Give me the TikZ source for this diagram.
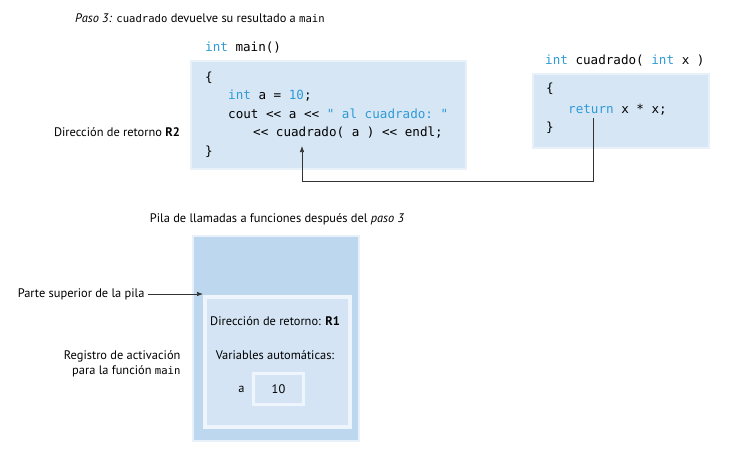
\documentclass[tikz,border=0pt]{standalone}
\usepackage{fontspec}
\setmainfont{PT Sans}
\setmonofont{DejaVu Sans Mono}
\usetikzlibrary{positioning,arrows.meta,calc}
\definecolor{codebg}{HTML}{D6E6F5}
\definecolor{boxedge}{HTML}{E8F1FA}
\definecolor{stackbg}{HTML}{BDD7EE}
\definecolor{framebg}{HTML}{D4E4F4}
\definecolor{frameedge}{HTML}{EEF5FC}
\definecolor{kw}{HTML}{2E9BD6}
\definecolor{linegray}{HTML}{333333}

\begin{document}
\begin{tikzpicture}[x=1pt, y=-1pt,
  font=\fontsize{12.4}{14.5}\selectfont,
  lbl/.style={inner sep=0pt, anchor=base west},
  code/.style={inner sep=0pt, anchor=base west, font=\fontsize{12.6}{14}\ttfamily},
  codebox/.style={draw=boxedge, line width=2pt, fill=codebg, anchor=north west, inner sep=0pt},
  stackbox/.style={draw=boxedge, line width=2pt, fill=stackbg, anchor=north west, inner sep=0pt},
  framebox/.style={draw=frameedge, line width=4pt, fill=framebg, anchor=north west, inner sep=0pt},
  arr/.style={-{Latex[length=6pt,width=4.5pt]}, line width=0.7pt, draw=linegray},
  ]
  \useasboundingbox (0,0) rectangle (733,453);

  \node[lbl] (title) at (75,22) {{\itshape Paso 3:} {\fontsize{10.6}{12}\ttfamily cuadrado} devuelve su resultado a {\fontsize{10.6}{12}\ttfamily main}};

  % main
  \node[code] (mainhead) at (205,51) {\textcolor{kw}{int} main()};
  \node[codebox, minimum width=275pt, minimum height=108pt] (mainbox) at (190,60) {};
  \node[code] (m1) at (205,81) {\{};
  \node[code] (m2) at (228,99) {\textcolor{kw}{int} a = \textcolor{kw}{10};};
  \node[code] (m3) at (228,118) {cout << a << \textcolor{kw}{" al cuadrado: "}};
  \node[code] (m4) at (253,136) {<< cuadrado( a ) << endl;};
  \node[code] (m5) at (205,155) {\}};
  \node[lbl, anchor=base east] (r2) at (180,136) {Dirección de retorno \textbf{R2}};

  % cuadrado
  \node[code] (sqhead) at (545,64) {\textcolor{kw}{int} cuadrado( \textcolor{kw}{int} x )};
  \node[codebox, minimum width=176pt, minimum height=74pt] (sqbox) at (532,73) {};
  \node[code] (s1) at (546,92) {\{};
  \node[code] (s2) at (568,113) {\textcolor{kw}{return} x * x;};
  \node[code] (s3) at (546,131) {\}};

  \coordinate (retend) at (593,118);
  \coordinate (bend) at (593,181);
  \coordinate (callend) at (302,146);
  \draw[arr] (retend) -- (bend) -| (callend);

  % pila
  \node[lbl, anchor=base] (stacktitle) at (277,222) {Pila de llamadas a funciones después del {\itshape paso 3}};
  \node[stackbox, minimum width=166pt, minimum height=205pt] (stack) at (192,235) {};
  \node[framebox, minimum width=145pt, minimum height=130pt] (frame) at (203,295) {};
  \node (ret1) at (275,321) {Dirección de retorno: \textbf{R1}};
  \node (autovars) at (275,355) {Variables automáticas:};
  \node[framebox, line width=3pt, minimum width=50pt, minimum height=31pt] (valbox) at (252,372) {};
  \node (val) at (valbox.center) {10};
  \node[left=4pt of valbox] (var) {a};

  \node[anchor=east] (toplbl) at (148,294) {Parte superior de la pila};
  \draw[arr] (toplbl.east) -- (toplbl.east -| frame.west);
  \node[anchor=east, align=right] (reglbl) at (184,364) {Registro de activación\\para la función {\fontsize{10.6}{12}\ttfamily main}};
\end{tikzpicture}
\end{document}
